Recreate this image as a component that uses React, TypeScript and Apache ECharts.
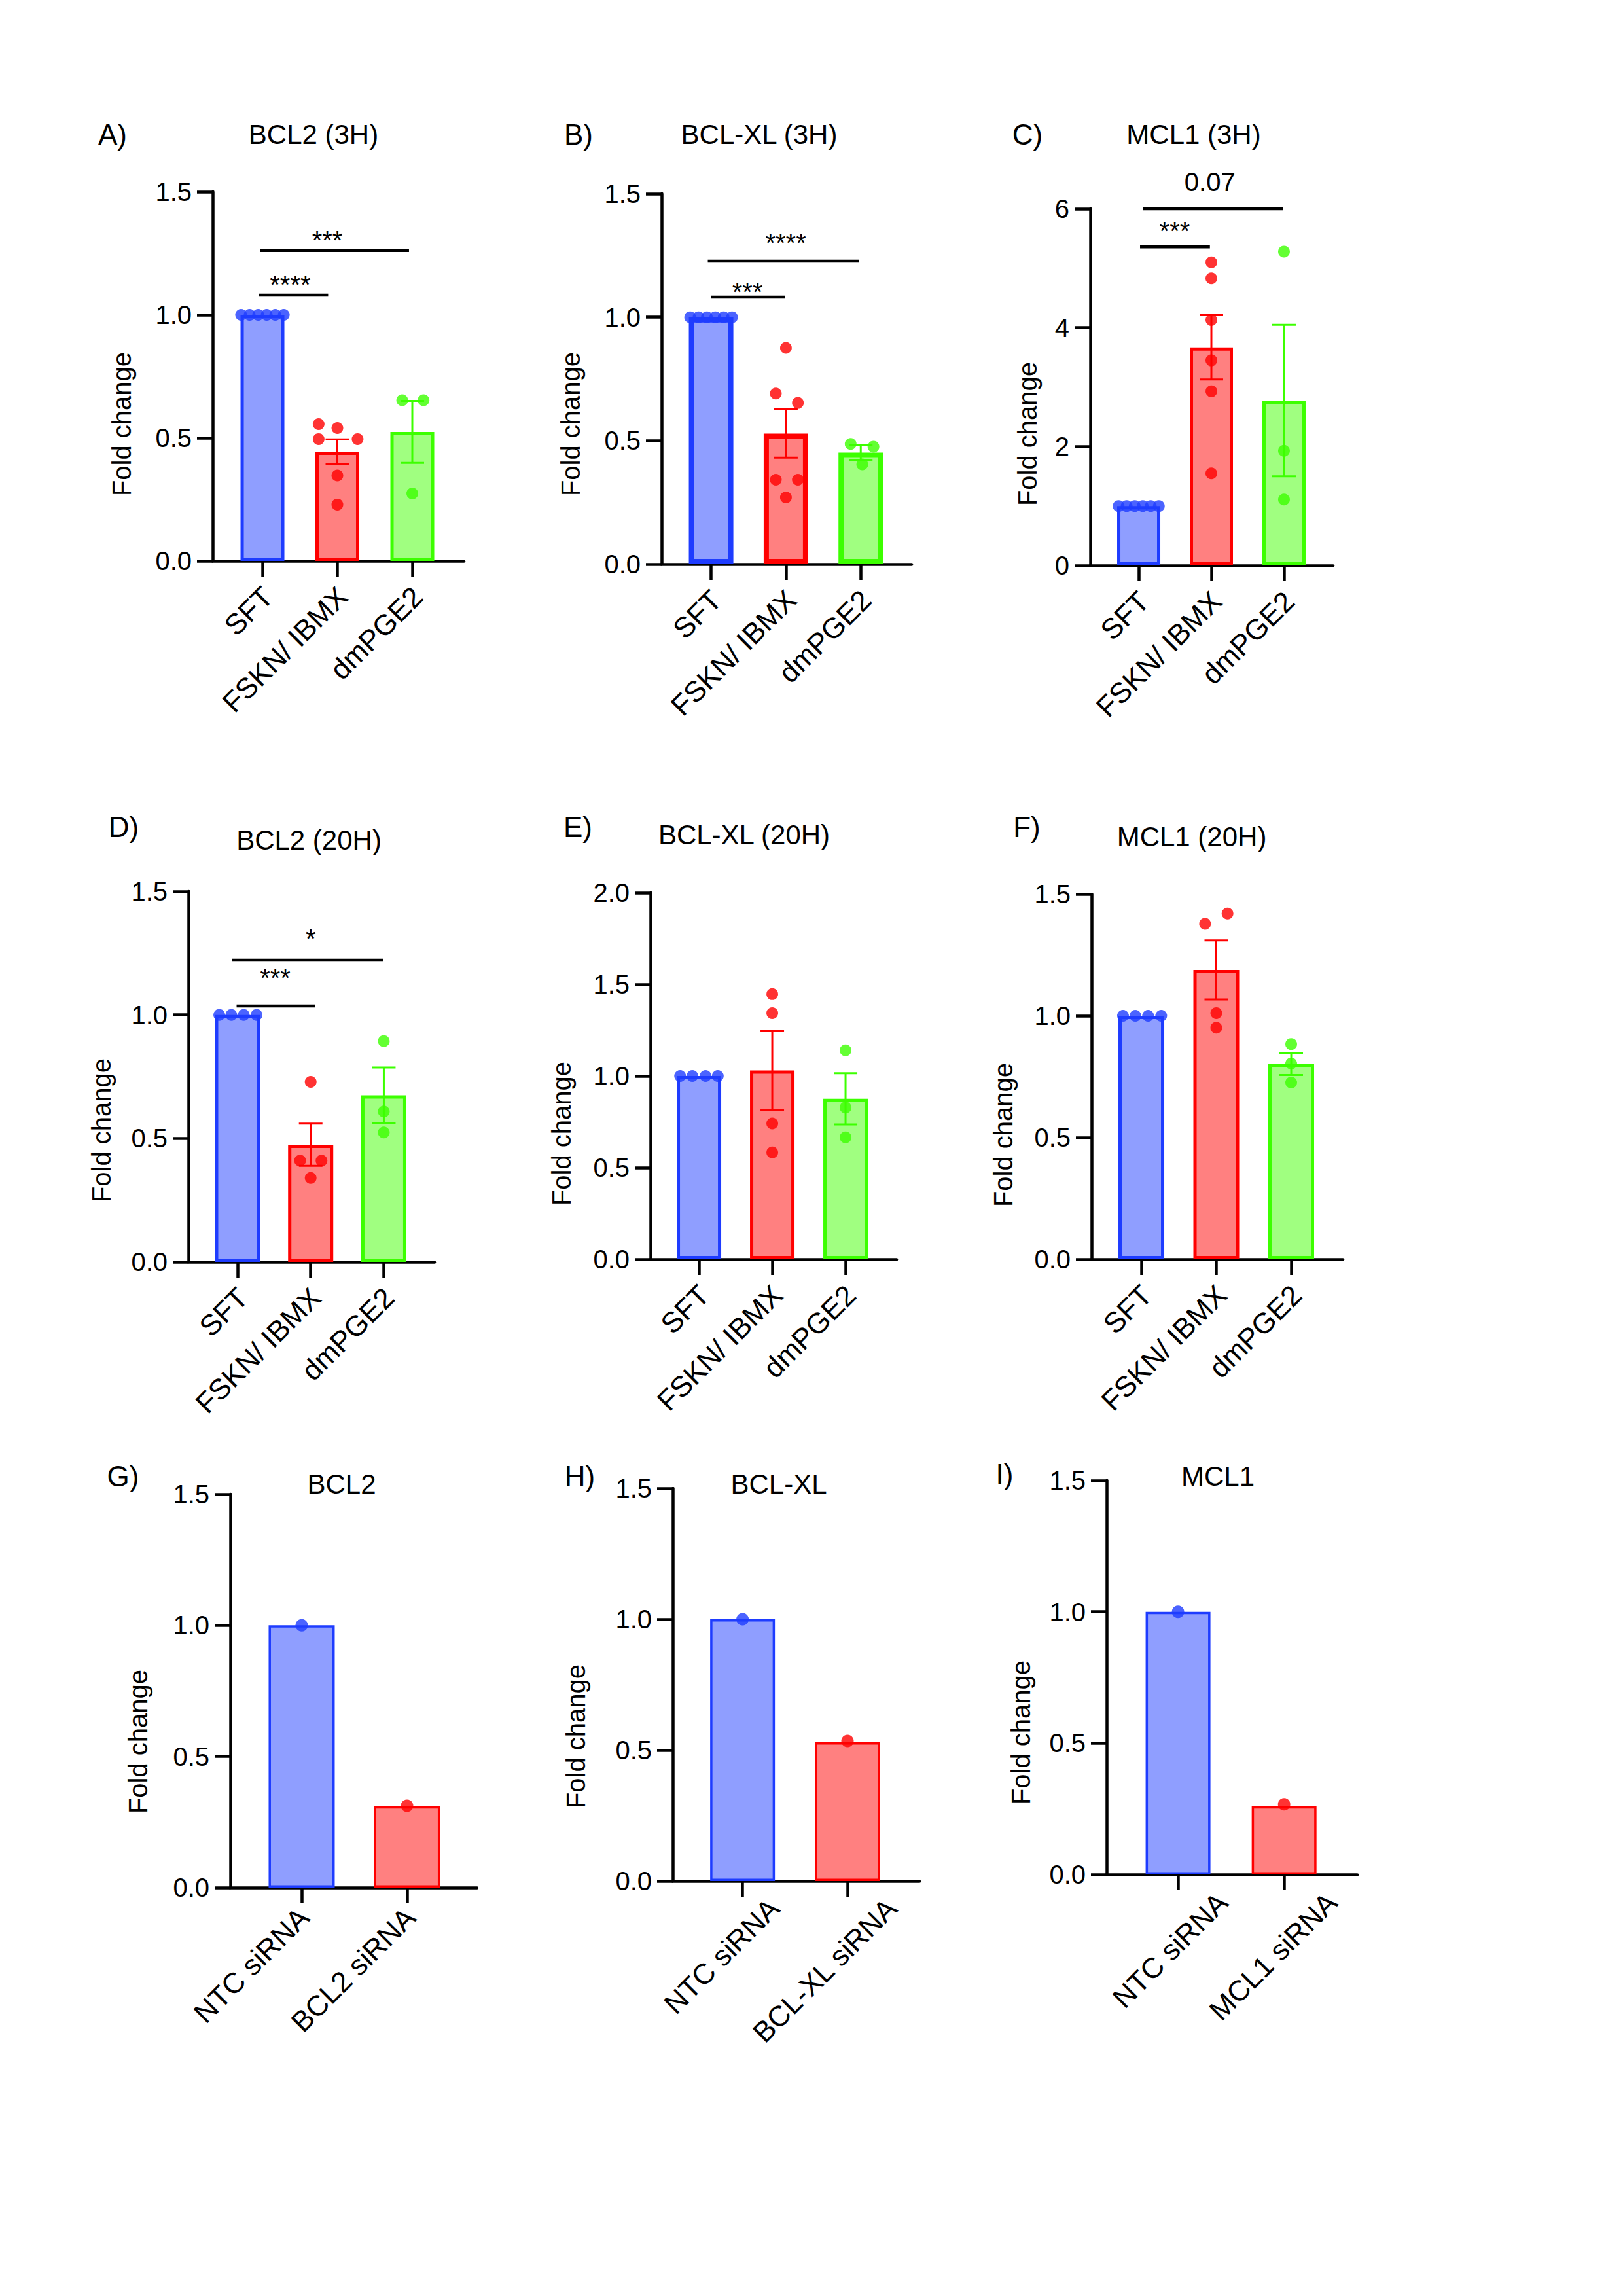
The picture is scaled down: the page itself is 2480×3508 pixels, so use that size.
import React, { useEffect, useRef } from "react";
import * as echarts from "echarts";

const FONT = "'Liberation Sans', Arial, Helvetica, sans-serif";

// ---------- categories ----------
const catsTreat = ["SFT", "FSKN/ IBMX", "dmPGE2"];
const catsG = ["NTC siRNA", "BCL2 siRNA"];
const catsH = ["NTC siRNA", "BCL-XL siRNA"];
const catsI = ["NTC siRNA", "MCL1 siRNA"];

// ---------- A) BCL2 (3H) ----------
const aMeans = [1.0, 0.444, 0.524];
const aSem = [0, 0.05, 0.126];
const aSFT = [1, 1, 1, 1, 1, 1];
const aSFTJit = [-0.285, -0.171, -0.057, 0.057, 0.171, 0.285];
const aFSKN = [0.556, 0.54, 0.495, 0.495, 0.347, 0.229];
const aFSKNJit = [-0.25, 0, -0.25, 0.27, 0, 0];
const aPGE = [0.653, 0.653, 0.274];
const aPGEJit = [-0.135, 0.15, 0];
const aSigText = ["****", "***"];
const aSigFrom = [-0.05, -0.035];
const aSigTo = [0.877, 1.956];
const aSigY = [1.08, 1.261];
const aSigTx = [0.37, 0.865];
const aSigTy = [1.145, 1.328];

// ---------- B) BCL-XL (3H) ----------
const bMeans = [1.0, 0.529, 0.452];
const bSem = [0, 0.098, 0.03];
const bSFT = [1, 1, 1, 1, 1, 1];
const bSFTJit = [-0.28, -0.168, -0.056, 0.056, 0.168, 0.28];
const bFSKN = [0.876, 0.691, 0.653, 0.342, 0.342, 0.27];
const bFSKNJit = [0, -0.135, 0.16, -0.135, 0.16, 0];
const bPGE = [0.487, 0.476, 0.404];
const bPGEJit = [-0.135, 0.17, 0.02];
const bSigText = ["***", "****"];
const bSigFrom = [0.003, -0.044];
const bSigTo = [0.99, 1.976];
const bSigY = [1.081, 1.227];
const bSigTx = [0.486, 0.997];
const bSigTy = [1.127, 1.326];

// ---------- C) MCL1 (3H) ----------
const cMeans = [1.0, 3.67, 2.775];
const cSem = [0, 0.54, 1.275];
const cSFT = [1, 1, 1, 1, 1, 1];
const cSFTJit = [-0.277, -0.166, -0.055, 0.055, 0.166, 0.277];
const cFSKN = [5.1, 4.83, 4.13, 3.45, 2.93, 1.55];
const cFSKNJit = [0, 0, 0, 0, 0, 0];
const cPGE = [5.28, 1.93, 1.11];
const cPGEJit = [0, 0, 0];
const cSigText = ["***", "0.07"];
const cSigFrom = [0.018, 0.054];
const cSigTo = [0.98, 1.986];
const cSigY = [5.36, 6.0];
const cSigTx = [0.495, 0.98];
const cSigTy = [5.72, 6.45];

// ---------- D) BCL2 (20H) ----------
const dMeans = [1.0, 0.4745, 0.6745];
const dSem = [0, 0.0855, 0.1125];
const dSFT = [1, 1, 1, 1];
const dSFTJit = [-0.25, -0.085, 0.085, 0.26];
const dFSKN = [0.729, 0.41, 0.41, 0.34];
const dFSKNJit = [0, -0.145, 0.148, 0];
const dPGE = [0.894, 0.609, 0.524];
const dPGEJit = [0, 0, 0];
const dSigText = ["***", "*"];
const dSigFrom = [-0.013, -0.08];
const dSigTo = [1.06, 1.99];
const dSigY = [1.036, 1.222];
const dSigTx = [0.515, 1.0];
const dSigTy = [1.174, 1.333];

// ---------- E) BCL-XL (20H) ----------
const eMeans = [1.0, 1.03, 0.8755];
const eSem = [0, 0.2145, 0.14];
const eSFT = [1, 1, 1, 1];
const eSFTJit = [-0.257, -0.09, 0.09, 0.257];
const eFSKN = [1.447, 1.343, 0.741, 0.583];
const eFSKNJit = [0, 0, 0, 0];
const ePGE = [1.14, 0.828, 0.665];
const ePGEJit = [0, 0, 0];

// ---------- F) MCL1 (20H) ----------
const fMeans = [1.0, 1.1885, 0.8025];
const fSem = [0, 0.1215, 0.0455];
const fSFT = [1, 1, 1, 1];
const fSFTJit = [-0.245, -0.08, 0.09, 0.265];
const fFSKN = [1.42, 1.378, 1.011, 0.951];
const fFSKNJit = [0.15, -0.15, 0, 0];
const fPGE = [0.884, 0.804, 0.726];
const fPGEJit = [0, 0, 0];

// ---------- G/H/I) siRNA ----------
const gMeans = [1.0, 0.31];
const gNTC = [1.0];
const gSi = [0.312];
const hMeans = [1.0, 0.53];
const hNTC = [1.0];
const hSi = [0.535];
const iMeans = [1.0, 0.26];
const iNTC = [1.0];
const iSi = [0.267];
const singleJit = [0];

// ---------- tick labels ----------
const ticks15 = [0, 0.5, 1.0, 1.5];
const ticks20 = [0, 0.5, 1.0, 1.5, 2.0];
const ticks6 = [0, 2, 4, 6];

// ---------- styles ----------
const FILLS = ["#8f9eff", "#ff8080", "#a0ff80"];
const STROKES = ["#1e3cff", "#ff0000", "#3cff00"];

type Sig = { text: string[]; from: number[]; to: number[]; y: number[]; tx: number[]; ty: number[] };
type Panel = {
  letter: string;
  title: string;
  cats: string[];
  means: number[];
  sem: number[] | null;
  pts: number[][];
  jit: number[][];
  sig: Sig | null;
  ticks: number[];
  dec: number;
  grid: [number, number, number, number];
  xMin: number;
  xMax: number;
  barW: number;
  borderW: number;
  dot: number;
  labelPos: number[];
  labelMargin: number;
  letterXY: [number, number];
  titleXY: [number, number];
  yNameXY: [number, number];
};

const panels: Panel[] = [
  {
    letter: "A)", title: "BCL2 (3H)", cats: catsTreat, means: aMeans, sem: aSem,
    pts: [aSFT, aFSKN, aPGE], jit: [aSFTJit, aFSKNJit, aPGEJit],
    sig: { text: aSigText, from: aSigFrom, to: aSigTo, y: aSigY, tx: aSigTx, ty: aSigTy },
    ticks: ticks15, dec: 1, grid: [325, 293, 384, 564], xMin: -0.664, xMax: 2.69,
    barW: 67, borderW: 5, dot: 18, labelPos: [0.07, 1.07, 2.07], labelMargin: 47,
    letterXY: [172, 205], titleXY: [479, 205], yNameXY: [186, 648],
  },
  {
    letter: "B)", title: "BCL-XL (3H)", cats: catsTreat, means: bMeans, sem: bSem,
    pts: [bSFT, bFSKN, bPGE], jit: [bSFTJit, bFSKNJit, bPGEJit],
    sig: { text: bSigText, from: bSigFrom, to: bSigTo, y: bSigY, tx: bSigTx, ty: bSigTy },
    ticks: ticks15, dec: 1, grid: [1011, 296, 382, 566], xMin: -0.661, xMax: 2.68,
    barW: 68, borderW: 8, dot: 18, labelPos: [0.07, 1.07, 2.07], labelMargin: 47,
    letterXY: [884, 205], titleXY: [1160, 205], yNameXY: [872, 648],
  },
  {
    letter: "C)", title: "MCL1 (3H)", cats: catsTreat, means: cMeans, sem: cSem,
    pts: [cSFT, cFSKN, cPGE], jit: [cSFTJit, cFSKNJit, cPGEJit],
    sig: { text: cSigText, from: cSigFrom, to: cSigTo, y: cSigY, tx: cSigTx, ty: cSigTy },
    ticks: ticks6, dec: 0, grid: [1666, 319, 371, 545], xMin: -0.667, xMax: 2.676,
    barW: 66, borderW: 5, dot: 18, labelPos: [0.07, 1.07, 2.07], labelMargin: 47,
    letterXY: [1570, 205], titleXY: [1824, 205], yNameXY: [1570, 663],
  },
  {
    letter: "D)", title: "BCL2 (20H)", cats: catsTreat, means: dMeans, sem: dSem,
    pts: [dSFT, dFSKN, dPGE], jit: [dSFTJit, dFSKNJit, dPGEJit],
    sig: { text: dSigText, from: dSigFrom, to: dSigTo, y: dSigY, tx: dSigTx, ty: dSigTy },
    ticks: ticks15, dec: 1, grid: [288, 1362, 376, 566], xMin: -0.671, xMax: 2.694,
    barW: 69, borderW: 5, dot: 18, labelPos: [0.07, 1.07, 2.07], labelMargin: 47,
    letterXY: [189, 1263], titleXY: [472, 1283], yNameXY: [155, 1727],
  },
  {
    letter: "E)", title: "BCL-XL (20H)", cats: catsTreat, means: eMeans, sem: eSem,
    pts: [eSFT, eFSKN, ePGE], jit: [eSFTJit, eFSKNJit, ePGEJit],
    sig: null,
    ticks: ticks20, dec: 1, grid: [994, 1364, 376, 560], xMin: -0.661, xMax: 2.696,
    barW: 68, borderW: 5, dot: 18, labelPos: [0.07, 1.07, 2.07], labelMargin: 47,
    letterXY: [883, 1263], titleXY: [1137, 1275], yNameXY: [858, 1732],
  },
  {
    letter: "F)", title: "MCL1 (20H)", cats: catsTreat, means: fMeans, sem: fSem,
    pts: [fSFT, fFSKN, fPGE], jit: [fSFTJit, fFSKNJit, fPGEJit],
    sig: null,
    ticks: ticks15, dec: 1, grid: [1668, 1366, 384, 558], xMin: -0.664, xMax: 2.69,
    barW: 70, borderW: 5, dot: 18, labelPos: [0.07, 1.07, 2.07], labelMargin: 47,
    letterXY: [1569, 1263], titleXY: [1821, 1278], yNameXY: [1533, 1734],
  },
  {
    letter: "G)", title: "BCL2", cats: catsG, means: gMeans, sem: null,
    pts: [gNTC, gSi], jit: [singleJit, singleJit], sig: null,
    ticks: ticks15, dec: 1, grid: [352, 2283, 377, 601], xMin: -0.677, xMax: 1.665,
    barW: 101, borderW: 3.5, dot: 19, labelPos: [0.02, 1.03], labelMargin: 38,
    letterXY: [188, 2255], titleXY: [522, 2267], yNameXY: [211, 2661],
  },
  {
    letter: "H)", title: "BCL-XL", cats: catsH, means: hMeans, sem: null,
    pts: [hNTC, hSi], jit: [singleJit, singleJit], sig: null,
    ticks: ticks15, dec: 1, grid: [1028, 2274, 377, 600], xMin: -0.665, xMax: 1.686,
    barW: 99, borderW: 3.5, dot: 19, labelPos: [0.3, 1.42], labelMargin: 34,
    letterXY: [886, 2255], titleXY: [1190, 2267], yNameXY: [880, 2653],
  },
  {
    letter: "I)", title: "MCL1", cats: catsI, means: iMeans, sem: null,
    pts: [iNTC, iSi], jit: [singleJit, singleJit], sig: null,
    ticks: ticks15, dec: 1, grid: [1691, 2262, 383, 602], xMin: -0.673, xMax: 1.69,
    barW: 99, borderW: 3.5, dot: 19, labelPos: [0.42, 1.45], labelMargin: 35,
    letterXY: [1535, 2252], titleXY: [1861, 2255], yNameXY: [1560, 2647],
  },
];

function buildOption() {
  const grid: any[] = [];
  const xAxis: any[] = [];
  const yAxis: any[] = [];
  const series: any[] = [];
  const graphic: any[] = [];

  panels.forEach((p, pi) => {
    const [left, top, width, height] = p.grid;
    grid.push({ left, top, width, height, containLabel: false });
    const catIdx = p.cats.map((_, k) => k);
    const yMax = p.ticks[p.ticks.length - 1];
    const yInt = p.ticks[1] - p.ticks[0];

    xAxis.push({
      type: "value",
      gridIndex: pi,
      min: p.xMin,
      max: p.xMax,
      splitLine: { show: false },
      axisLine: { show: true, onZero: false, lineStyle: { color: "#000", width: 4.5 } },
      axisTick: {
        show: true,
        length: 24,
        customValues: catIdx,
        lineStyle: { color: "#000", width: 4.5 },
      },
      axisLabel: {
        show: true,
        customValues: p.labelPos,
        rotate: 45,
        margin: p.labelMargin,
        fontSize: 44,
        fontFamily: FONT,
        color: "#000",
        formatter: (v: number) => {
          const i = p.labelPos.findIndex((q) => Math.abs(q - v) < 1e-6);
          return i >= 0 ? p.cats[i] : "";
        },
      },
    });

    yAxis.push({
      type: "value",
      gridIndex: pi,
      min: 0,
      max: yMax,
      interval: yInt,
      splitLine: { show: false },
      axisLine: { show: true, onZero: false, lineStyle: { color: "#000", width: 4.5 } },
      axisTick: { show: true, length: 24, inside: false, lineStyle: { color: "#000", width: 4.5 } },
      axisLabel: {
        show: true,
        margin: 32,
        fontSize: 40,
        fontFamily: FONT,
        color: "#000",
        formatter: (v: number) => v.toFixed(p.dec),
      },
    });

    // bars
    series.push({
      type: "bar",
      xAxisIndex: pi,
      yAxisIndex: pi,
      barWidth: p.barW,
      silent: true,
      z: 2,
      data: p.means.map((m, k) => ({
        value: [k, m],
        itemStyle: { color: FILLS[k], borderColor: STROKES[k], borderWidth: p.borderW },
      })),
    });

    // individual points
    const pts: any[] = [];
    p.pts.forEach((vals, k) => {
      vals.forEach((v, j) => {
        pts.push({ value: [k + p.jit[k][j], v], itemStyle: { color: STROKES[k] } });
      });
    });
    series.push({
      type: "scatter",
      xAxisIndex: pi,
      yAxisIndex: pi,
      symbol: "circle",
      symbolSize: p.dot,
      silent: true,
      z: 4,
      data: pts,
    });

    // error bars (mean ± SEM)
    if (p.sem) {
      const sem = p.sem;
      const errData = p.means
        .map((m, k) => [k, m, sem[k]])
        .filter((d) => d[2] > 0);
      series.push({
        type: "custom",
        xAxisIndex: pi,
        yAxisIndex: pi,
        silent: true,
        z: 5,
        encode: { x: 0, y: 1 },
        data: errData,
        renderItem: (params: any, api: any) => {
          const x = api.value(0);
          const m = api.value(1);
          const s = api.value(2);
          const t = api.coord([x, m + s]);
          const b = api.coord([x, m - s]);
          const color = STROKES[Math.round(x)];
          const hw = 18;
          const st = { stroke: color, lineWidth: 3 };
          return {
            type: "group",
            children: [
              { type: "line", shape: { x1: t[0], y1: t[1], x2: b[0], y2: b[1] }, style: st },
              { type: "line", shape: { x1: t[0] - hw, y1: t[1], x2: t[0] + hw, y2: t[1] }, style: st },
              { type: "line", shape: { x1: b[0] - hw, y1: b[1], x2: b[0] + hw, y2: b[1] }, style: st },
            ],
          };
        },
      });
    }

    // significance brackets
    if (p.sig) {
      const sig = p.sig;
      series.push({
        type: "custom",
        xAxisIndex: pi,
        yAxisIndex: pi,
        silent: true,
        z: 6,
        clip: false,
        encode: { x: 0, y: 1 },
        data: sig.from.map((f, i) => [f, sig.y[i]]),
        renderItem: (params: any, api: any) => {
          const i = params.dataIndex;
          const p1 = api.coord([sig.from[i], sig.y[i]]);
          const p2 = api.coord([sig.to[i], sig.y[i]]);
          const pt = api.coord([sig.tx[i], sig.ty[i]]);
          const isStar = sig.text[i].charAt(0) === "*";
          return {
            type: "group",
            children: [
              {
                type: "line",
                shape: { x1: p1[0], y1: p1[1], x2: p2[0], y2: p2[1] },
                style: { stroke: "#000", lineWidth: 4.5 },
              },
              {
                type: "text",
                style: {
                  text: sig.text[i],
                  x: pt[0],
                  y: pt[1] + (isStar ? 9 : 0),
                  align: "center",
                  verticalAlign: "middle",
                  textAlign: "center",
                  textVerticalAlign: "middle",
                  font: `40px ${FONT}`,
                  fill: "#000",
                },
              },
            ],
          };
        },
      });
    }

    // panel letter, title, y-axis name
    const txt = (text: string, xy: [number, number], size: number, rot = 0) => ({
      type: "text",
      x: xy[0],
      y: xy[1],
      rotation: rot,
      silent: true,
      style: {
        text,
        x: 0,
        y: 0,
        align: "center",
        verticalAlign: "middle",
        textAlign: "center",
        textVerticalAlign: "middle",
        font: `${size}px ${FONT}`,
        fill: "#000",
      },
    });
    graphic.push(txt(p.letter, p.letterXY, 44));
    graphic.push(txt(p.title, p.titleXY, 42));
    graphic.push(txt("Fold change", p.yNameXY, 40, Math.PI / 2));
  });

  return {
    animation: false,
    backgroundColor: "#ffffff",
    textStyle: { fontFamily: FONT },
    grid,
    xAxis,
    yAxis,
    series,
    graphic,
  };
}

export default function App() {
  const ref = useRef<HTMLDivElement>(null);
  useEffect(() => {
    if (!ref.current) return;
    const chart = echarts.init(ref.current, null, { renderer: "svg" });
    chart.setOption(buildOption() as any);
    return () => {
      chart.dispose();
    };
  }, []);
  return (
    <div
      ref={ref}
      style={{ position: "absolute", left: 0, top: 0, width: 2480, height: 3508, background: "#fff" }}
    />
  );
}
